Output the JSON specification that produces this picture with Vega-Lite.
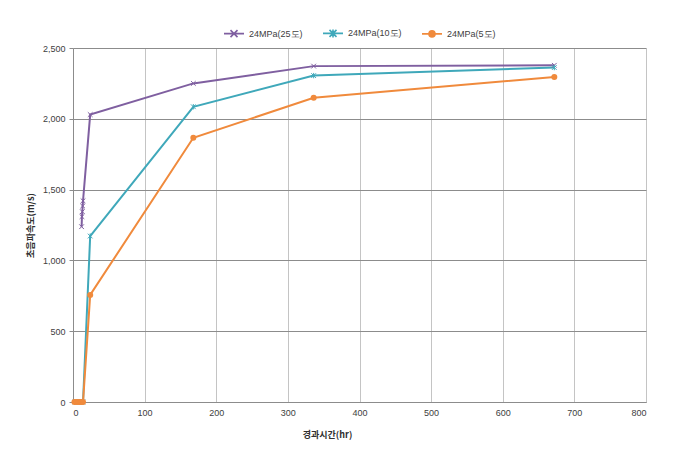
{
  "$schema": "https://vega.github.io/schema/vega-lite/v6.json",
  "width": 573,
  "height": 354,
  "autosize": "none",
  "padding": {"left": 73, "top": 48, "right": 31, "bottom": 55},
  "background": "white",
  "config": {
    "view": {"stroke": null},
    "axis": {
      "labelFont": "Liberation Sans",
      "labelFontSize": 9,
      "labelColor": "#404040",
      "titleFont": "Noto Sans CJK KR",
      "titleFontSize": 9,
      "titleFontWeight": "bold",
      "titleColor": "#303030",
      "domainColor": "#8c8c8c",
      "tickColor": "#8c8c8c",
      "tickSize": 4
    },
    "legend": {
      "labelFont": "Liberation Sans",
      "labelFontSize": 9,
      "labelColor": "#404040"
    }
  },
  "data": {
    "values": [
      {"s": "24MPa(25도)", "t": 12, "v": 1238},
      {"s": "24MPa(25도)", "t": 12.5, "v": 1309},
      {"s": "24MPa(25도)", "t": 13, "v": 1344},
      {"s": "24MPa(25도)", "t": 13.5, "v": 1384},
      {"s": "24MPa(25도)", "t": 14, "v": 1421},
      {"s": "24MPa(25도)", "t": 24, "v": 2030},
      {"s": "24MPa(25도)", "t": 168, "v": 2250},
      {"s": "24MPa(25도)", "t": 336, "v": 2372},
      {"s": "24MPa(25도)", "t": 672, "v": 2378},
      {"s": "24MPa(10도)", "t": 3, "v": 0},
      {"s": "24MPa(10도)", "t": 6, "v": 0},
      {"s": "24MPa(10도)", "t": 9, "v": 0},
      {"s": "24MPa(10도)", "t": 12, "v": 0},
      {"s": "24MPa(10도)", "t": 14, "v": 0},
      {"s": "24MPa(10도)", "t": 24, "v": 1172},
      {"s": "24MPa(10도)", "t": 168, "v": 2085},
      {"s": "24MPa(10도)", "t": 336, "v": 2305},
      {"s": "24MPa(10도)", "t": 672, "v": 2362},
      {"s": "24MPa(5도)", "t": 2, "v": 0},
      {"s": "24MPa(5도)", "t": 5, "v": 0},
      {"s": "24MPa(5도)", "t": 8, "v": 0},
      {"s": "24MPa(5도)", "t": 11, "v": 0},
      {"s": "24MPa(5도)", "t": 14, "v": 0},
      {"s": "24MPa(5도)", "t": 24, "v": 756},
      {"s": "24MPa(5도)", "t": 168, "v": 1866},
      {"s": "24MPa(5도)", "t": 336, "v": 2148},
      {"s": "24MPa(5도)", "t": 672, "v": 2295}
    ]
  },
  "encoding": {
    "x": {
      "field": "t",
      "type": "quantitative",
      "scale": {"domain": [0, 800], "nice": false},
      "axis": {
        "values": [0, 100, 200, 300, 400, 500, 600, 700, 800],
        "title": "경과시간(hr)",
        "titleX": 254,
        "titleY": 28,
        "titleAlign": "center",
        "gridColor": "#c4c4c4",
        "gridWidth": 1,
        "ticks": false,
        "labelPadding": 6
      }
    },
    "y": {
      "field": "v",
      "type": "quantitative",
      "scale": {"domain": [0, 2500], "nice": false},
      "axis": {
        "values": [0, 500, 1000, 1500, 2000, 2500],
        "format": ",.0f",
        "title": "초음파속도(m/s)",
        "titlePadding": 7,
        "gridColor": "#8c8c8c",
        "gridWidth": 1,
        "labelPadding": 4
      }
    }
  },
  "layer": [
    {
      "mark": {"type": "line", "strokeWidth": 2},
      "encoding": {
        "color": {
          "field": "s",
          "type": "nominal",
          "scale": {
            "domain": ["24MPa(25도)", "24MPa(10도)", "24MPa(5도)"],
            "range": ["#7F5FA0", "#3FA8BA", "#F08A3C"]
          },
          "legend": {
            "title": null,
            "orient": "none",
            "direction": "horizontal",
            "legendX": 150,
            "legendY": -26,
            "symbolSize": 400,
            "symbolStrokeWidth": 1.6,
            "labelOffset": 4,
            "columnPadding": 16,
            "encode": {
              "symbols": {
                "update": {
                  "shape": {"signal": "datum.value === '24MPa(5도)' ? 'M-1,0L1,0M0.3,0A0.3,0.3 0 1,1 -0.3,0A0.3,0.3 0 1,1 0.3,0Z' : (datum.value === '24MPa(10도)' ? 'M-1,0L1,0M-0.35,-0.35L0.35,0.35M0.35,-0.35L-0.35,0.35M0,-0.4L0,0.4' : 'M-1,0L1,0M-0.35,-0.35L0.35,0.35M0.35,-0.35L-0.35,0.35')"},
                  "fill": {"signal": "datum.value === '24MPa(5도)' ? '#F08A3C' : 'transparent'"}
                }
              }
            }
          }
        }
      }
    },
    {
      "transform": [{"filter": "datum.s !== '24MPa(5도)'"}],
      "mark": {"type": "point", "filled": false, "strokeWidth": 1, "size": 45, "opacity": 1},
      "encoding": {
        "color": {"field": "s", "type": "nominal", "legend": null},
        "shape": {
          "field": "s",
          "type": "nominal",
          "scale": {
            "domain": ["24MPa(25도)", "24MPa(10도)"],
            "range": ["M-0.7,-0.7L0.7,0.7M0.7,-0.7L-0.7,0.7", "M-0.7,-0.7L0.7,0.7M0.7,-0.7L-0.7,0.7M0,-0.8L0,0.8"]
          },
          "legend": null
        }
      }
    },
    {
      "transform": [{"filter": "datum.s === '24MPa(5도)'"}],
      "mark": {"type": "point", "filled": true, "shape": "circle", "size": 36, "opacity": 1},
      "encoding": {
        "color": {"field": "s", "type": "nominal", "legend": null}
      }
    }
  ]
}
